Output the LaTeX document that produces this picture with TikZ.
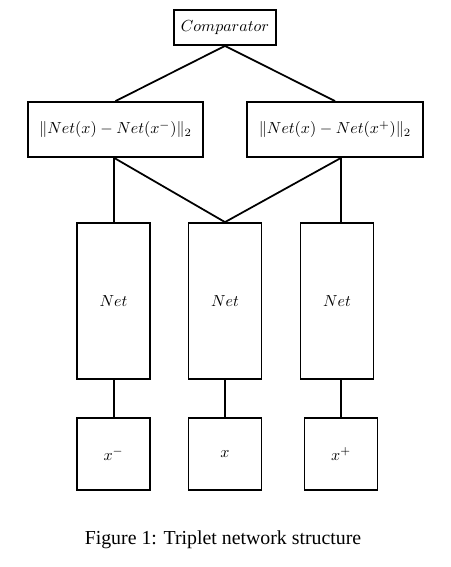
\documentclass[tikz,border=0pt]{standalone}
\usepackage{fontspec}
\newfontfamily\capfont{Liberation Serif}
\begin{document}
\begin{tikzpicture}[x=0.625pt,y=-0.625pt,
  box/.style={draw,line width=1.1pt,inner sep=0pt,rectangle},
  link/.style={line width=1.1pt}]
\useasboundingbox (0,0) rectangle (450,567);
\node[box,minimum width=63.75pt,minimum height=21.9pt] (comp) at (225,27.5) {$Comparator$};
\node[box,minimum width=109.4pt,minimum height=34.4pt] (lnorm) at (115.5,129.5) {$\|Net(x)-Net(x^{-})\|_2$};
\node[box,minimum width=110pt,minimum height=34.4pt] (rnorm) at (335,129.5) {$\|Net(x)-Net(x^{+})\|_2$};
\node[box,minimum width=45.6pt,minimum height=97.5pt] (lnet) at (113.5,301) {$Net$};
\node[box,minimum width=45.6pt,minimum height=97.5pt] (mnet) at (225,301) {$Net$};
\node[box,minimum width=45.6pt,minimum height=97.5pt] (rnet) at (337,301) {$Net$};
\node[box,minimum width=45.6pt,minimum height=45pt] (lin) at (113.5,454) {$x^{-}$};
\node[box,minimum width=45.6pt,minimum height=45pt] (min) at (225,454) {$x$};
\node[box,minimum width=45.6pt,minimum height=45pt] (rin) at (341,454) {$x^{+}$};
\node (cap) at (223,540) {\capfont\fontsize{12.4}{15}\selectfont Figure 1: Triplet network structure};
\coordinate (lj) at ([xshift=0.4pt]lnorm.south -| lnet.north);
\coordinate (rj) at (rnorm.south -| rin.north);
\draw[link] (comp.south) -- (lnorm.north);
\draw[link] (comp.south) -- (rnorm.north);
\draw[link] (lj) -- (lnet.north -| lj);
\draw[link] (lj) -- (mnet.north);
\draw[link] (rj) -- (rnet.north -| rj);
\draw[link] (rj) -- (mnet.north);
\draw[link] (lnet.south -| lj) -- (lin.north -| lj);
\draw[link] (mnet.south) -- (min.north);
\draw[link] (rnet.south -| rin.north) -- (rin.north);
\end{tikzpicture}
\end{document}
